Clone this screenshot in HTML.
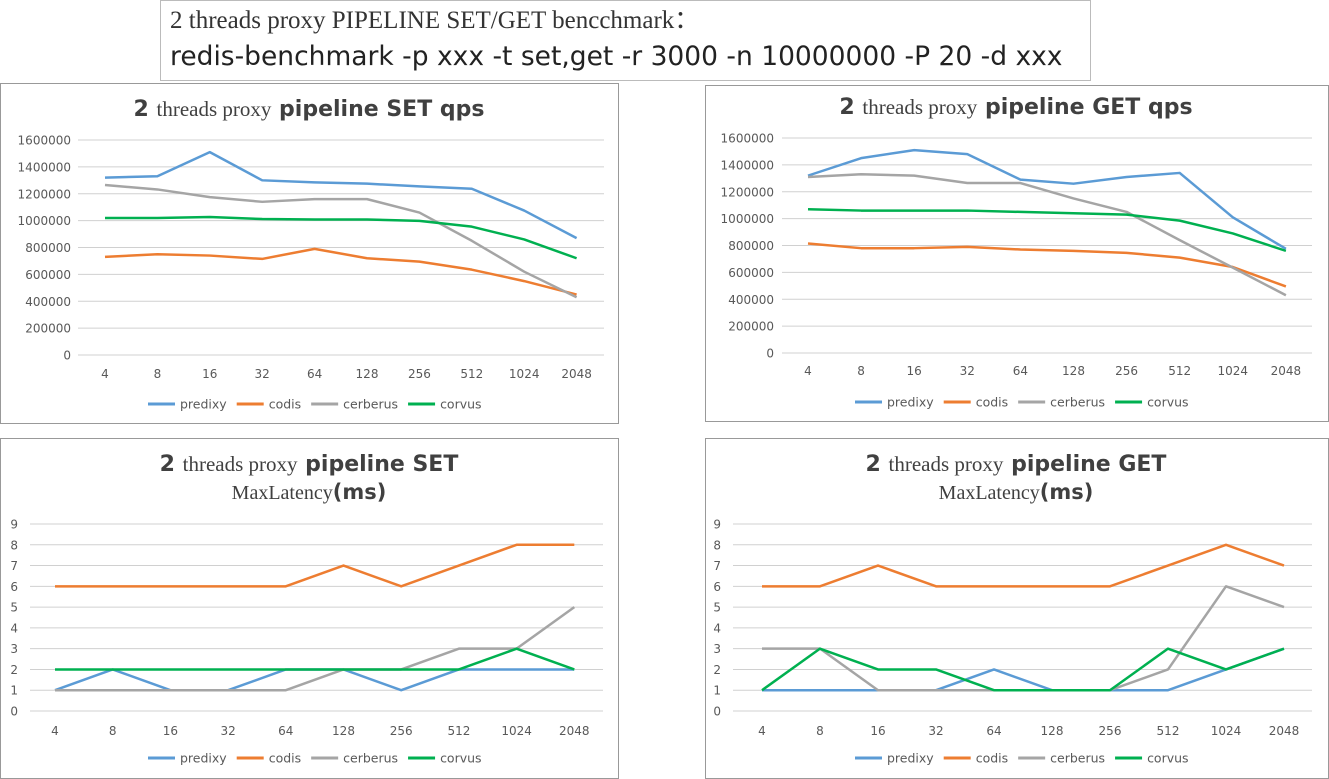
<!DOCTYPE html>
<html><head><meta charset="utf-8"><style>
body{margin:0;background:#fff;width:1329px;height:779px;overflow:hidden}
svg{display:block}
text{font-family:"DejaVu Sans","Liberation Sans",sans-serif}
</style></head><body>
<svg id="s" width="1329" height="779" xmlns="http://www.w3.org/2000/svg">
<rect x="160.5" y="0.5" width="930" height="80" fill="#fff" stroke="#bbb"/>
<text x="170" y="28" font-size="25" fill="#333" style="font-family:'Liberation Serif',serif">2 threads proxy PIPELINE SET/GET bencchmark：</text>
<text x="170" y="65" font-size="26.5" fill="#222">redis-benchmark -p xxx -t set,get -r 3000 -n 10000000 -P 20 -d xxx</text>
</svg>
<script>
const s=document.getElementById('s');const NS='http://www.w3.org/2000/svg';
function el(t,a,txt){const e=document.createElementNS(NS,t);for(const k in a)e.setAttribute(k,a[k]);if(txt!==undefined)e.textContent=txt;s.appendChild(e);return e;}
const cols=['#5b9bd5','#ed7d31','#a5a5a5','#00b050'],names=['predixy','codis','cerberus','corvus'];
const xl=['4','8','16','32','64','128','256','512','1024','2048'];
function chart(c){
 el('rect',{x:c.bx+.5,y:c.by+.5,width:c.bw,height:c.bh,fill:'#fff',stroke:'#999'});
 c.title.forEach(t=>{const tx=el('text',{x:t.x,y:t.y,'font-size':t.fs||22,'text-anchor':'middle',fill:'#404040'});
   t.parts.forEach(p=>{const ts=document.createElementNS(NS,'tspan');ts.textContent=p[0];
   if(p[1]){ts.setAttribute('style',"font-family:'Liberation Serif',serif");ts.setAttribute('font-size',(t.fs||22)-1);}else ts.setAttribute('font-weight','bold');tx.appendChild(ts);});});
 for(let i=0;i<=c.n;i++){const y=c.y0-(c.y0-c.ytop)*i/c.n;
  el('line',{x1:c.gx0,x2:c.gx1,y1:y,y2:y,stroke:'#d0d0d0','stroke-width':1});
  el('text',{x:c.lx,y:y+4.5,'font-size':12,'text-anchor':'end',fill:'#595959'},String(i*c.step));}
 xl.forEach((l,i)=>el('text',{x:c.x0+i*c.dx,y:c.xly,'font-size':12,'text-anchor':'middle',fill:'#595959'},l));
 c.data.forEach((d,k)=>{const pts=d.map((v,i)=>(c.x0+i*c.dx)+','+(c.y0-(c.y0-c.ytop)*v/(c.n*c.step))).join(' ');
  el('polyline',{points:pts,fill:'none',stroke:cols[k],'stroke-width':2.5,'stroke-linejoin':'round'});});
 let lx=c.legx;names.forEach((n,k)=>{el('line',{x1:lx,x2:lx+27,y1:c.legy,y2:c.legy,stroke:cols[k],'stroke-width':3});
  const t=el('text',{x:lx+32,y:c.legy+4.5,'font-size':12.5,fill:'#595959'},n);lx+=32+t.getComputedTextLength()+10;});
}
const K=1000;
chart({bx:0,by:83,bw:618,bh:340,title:[{x:309,y:116,parts:[['2 '],['threads proxy',1],[' pipeline SET qps']]}],
 n:8,step:200000,y0:355,ytop:140,gx0:78,gx1:604,lx:71,x0:105,dx:52.4,xly:378,legx:148,legy:404,
 data:[[1320,1330,1510,1300,1285,1275,1255,1237,1075,870].map(v=>v*K),[730,750,740,715,790,720,695,635,550,450].map(v=>v*K),
 [1265,1232,1175,1140,1160,1160,1060,850,620,430].map(v=>v*K),[1020,1020,1027,1012,1008,1008,998,955,860,720].map(v=>v*K)]});
chart({bx:705,by:85,bw:623,bh:336,title:[{x:1016,y:114,parts:[['2 '],['threads proxy',1],[' pipeline GET qps']]}],
 n:8,step:200000,y0:353,ytop:138,gx0:782,gx1:1312,lx:774,x0:808,dx:53.1,xly:375,legx:855,legy:402,
 data:[[1320,1450,1510,1480,1290,1260,1310,1340,1010,775].map(v=>v*K),[815,780,780,790,770,760,745,710,640,495].map(v=>v*K),
 [1310,1330,1320,1265,1265,1150,1050,840,635,430].map(v=>v*K),[1070,1060,1060,1060,1050,1040,1030,985,890,760].map(v=>v*K)]});
chart({bx:0,by:438,bw:618,bh:340,title:[{x:309,y:471,parts:[['2 '],['threads proxy',1],[' pipeline SET']]},{x:309,y:499,fs:21,parts:[['MaxLatency',1],['(ms)']]}],
 n:9,step:1,y0:711,ytop:524,gx0:30,gx1:603,lx:18,x0:55,dx:57.7,xly:735,legx:148,legy:758,
 data:[[1,2,1,1,2,2,1,2,2,2],[6,6,6,6,6,7,6,7,8,8],[1,1,1,1,1,2,2,3,3,5],[2,2,2,2,2,2,2,2,3,2]]});
chart({bx:705,by:438,bw:623,bh:340,title:[{x:1016,y:471,parts:[['2 '],['threads proxy',1],[' pipeline GET']]},{x:1016,y:499,fs:21,parts:[['MaxLatency',1],['(ms)']]}],
 n:9,step:1,y0:711,ytop:524,gx0:733,gx1:1312,lx:721,x0:762,dx:58,xly:735,legx:855,legy:758,
 data:[[1,1,1,1,2,1,1,1,2,3],[6,6,7,6,6,6,6,7,8,7],[3,3,1,1,1,1,1,2,6,5],[1,3,2,2,1,1,1,3,2,3]]});
</script>
</body></html>
